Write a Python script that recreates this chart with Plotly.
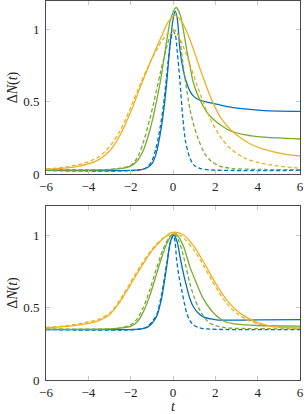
import plotly.graph_objects as go

# ---------------- data ----------------
# top panel
t_top_ys = [-6, -5, -4, -3.5, -3, -2.5, -2, -1.5, -1, -0.5, -0.2, 0.1, 0.4, 0.7, 1.0, 1.3, 1.6, 1.9, 2.3, 2.7, 3.2, 3.7, 4.4, 5.2, 6]
v_top_ys = [0.032, 0.042, 0.07, 0.1, 0.16, 0.27, 0.43, 0.62, 0.80, 0.97, 1.06, 1.10, 1.06, 0.97, 0.85, 0.72, 0.60, 0.49, 0.38, 0.31, 0.25, 0.205, 0.167, 0.14, 0.125]

t_top_yd = [-6, -5, -4, -3.5, -3, -2.5, -2, -1.5, -1, -0.5, -0.2, 0, 0.2, 0.5, 0.8, 1.1, 1.4, 1.8, 2.3, 2.8, 3.4, 4, 5, 6]
v_top_yd = [0.035, 0.05, 0.085, 0.12, 0.19, 0.30, 0.46, 0.64, 0.80, 0.93, 0.98, 0.99, 0.97, 0.88, 0.76, 0.63, 0.51, 0.37, 0.245, 0.165, 0.11, 0.08, 0.055, 0.04]

t_top_gs = [-6, -3, -2.5, -2, -1.7, -1.4, -1.1, -0.9, -0.6, -0.3, -0.1, 0.15, 0.35, 0.5, 0.65, 0.8, 0.95, 1.25, 1.6, 1.9, 2.3, 2.7, 3.3, 4, 5, 6]
v_top_gs = [0.028, 0.03, 0.037, 0.055, 0.09, 0.165, 0.30, 0.42, 0.64, 0.92, 1.08, 1.155, 1.10, 0.99, 0.86, 0.75, 0.64, 0.52, 0.43, 0.38, 0.335, 0.30, 0.275, 0.26, 0.25, 0.243]

t_top_gd = [-6, -3, -2.5, -2, -1.7, -1.4, -1.1, -0.9, -0.6, -0.3, -0.1, 0.05, 0.2, 0.33, 0.45, 0.6, 0.8, 1.0, 1.2, 1.5, 1.8, 2.2, 2.8, 4, 6]
v_top_gd = [0.03, 0.032, 0.04, 0.06, 0.11, 0.22, 0.38, 0.50, 0.70, 0.88, 0.97, 1.0, 0.98, 0.92, 0.79, 0.63, 0.45, 0.33, 0.24, 0.14, 0.09, 0.055, 0.038, 0.032, 0.03]

t_top_bs = [-6, -2, -1.5, -1.2, -1.0, -0.8, -0.6, -0.45, -0.3, -0.15, 0.0, 0.1, 0.2, 0.33, 0.5, 0.65, 0.8, 1.0, 1.3, 1.9, 2.85, 4.3, 6]
v_top_bs = [0.025, 0.025, 0.03, 0.045, 0.07, 0.14, 0.28, 0.43, 0.63, 0.88, 1.07, 1.13, 1.08, 0.86, 0.71, 0.63, 0.575, 0.535, 0.51, 0.49, 0.46, 0.44, 0.435]

t_top_bd = [-6, -1.5, -1.2, -1.0, -0.8, -0.6, -0.45, -0.3, -0.15, 0.0, 0.1, 0.2, 0.33, 0.45, 0.6, 0.8, 1.0, 1.3, 1.8, 6]
v_top_bd = [0.025, 0.03, 0.05, 0.09, 0.18, 0.33, 0.48, 0.68, 0.88, 0.99, 0.97, 0.85, 0.64, 0.41, 0.22, 0.11, 0.06, 0.038, 0.028, 0.025]

# bottom panel
t_bot_ys = [-6, -5, -4, -3.5, -3, -2.5, -2, -1.5, -1, -0.5, -0.1, 0.1, 0.5, 1, 1.5, 2, 2.5, 3, 3.5, 4, 4.5, 5, 6]
v_bot_ys = [0.36, 0.37, 0.39, 0.41, 0.45, 0.54, 0.66, 0.78, 0.89, 0.97, 1.015, 1.02, 1.0, 0.92, 0.80, 0.67, 0.56, 0.48, 0.43, 0.395, 0.375, 0.365, 0.36]

t_bot_yd = [-6, -5, -4, -3.5, -3, -2.5, -2, -1.5, -1, -0.5, 0, 0.3, 0.5, 1, 1.5, 2, 2.5, 3, 3.5, 4, 4.5, 5, 6]
v_bot_yd = [0.362, 0.375, 0.40, 0.42, 0.46, 0.555, 0.675, 0.795, 0.90, 0.975, 1.01, 1.0, 0.98, 0.895, 0.775, 0.645, 0.535, 0.46, 0.415, 0.388, 0.372, 0.363, 0.358]

t_bot_gs = [-6, -3, -2.5, -2, -1.7, -1.4, -1.1, -0.8, -0.5, -0.2, 0.08, 0.3, 0.5, 0.8, 1.1, 1.4, 1.7, 2, 2.5, 3, 4, 6]
v_bot_gs = [0.35, 0.352, 0.358, 0.37, 0.40, 0.47, 0.58, 0.72, 0.86, 0.97, 1.015, 0.98, 0.92, 0.78, 0.67, 0.57, 0.50, 0.45, 0.40, 0.385, 0.376, 0.372]

t_bot_gd = [-6, -3, -2.5, -2, -1.7, -1.4, -1.1, -0.8, -0.5, -0.2, 0.05, 0.3, 0.5, 0.8, 1.0, 1.27, 1.6, 1.9, 2.5, 3.5, 6]
v_bot_gd = [0.35, 0.353, 0.36, 0.38, 0.42, 0.50, 0.62, 0.76, 0.89, 0.98, 1.01, 0.95, 0.85, 0.665, 0.57, 0.48, 0.41, 0.38, 0.36, 0.355, 0.352]

t_bot_bs = [-6, -2, -1.5, -1.2, -1.0, -0.77, -0.53, -0.3, -0.11, 0.05, 0.2, 0.33, 0.5, 0.65, 0.8, 0.96, 1.2, 1.43, 2.06, 3, 4, 6]
v_bot_bs = [0.348, 0.348, 0.352, 0.365, 0.39, 0.44, 0.57, 0.78, 0.96, 1.0, 0.95, 0.85, 0.73, 0.64, 0.56, 0.505, 0.46, 0.435, 0.415, 0.413, 0.414, 0.416]

t_bot_bd = [-6, -1.5, -1.2, -1.0, -0.77, -0.53, -0.3, -0.1, 0.02, 0.1, 0.17, 0.3, 0.41, 0.55, 0.65, 0.8, 0.96, 1.2, 1.6, 6]
v_bot_bd = [0.348, 0.352, 0.37, 0.40, 0.45, 0.60, 0.80, 0.96, 1.0, 0.95, 0.83, 0.70, 0.62, 0.52, 0.46, 0.41, 0.38, 0.362, 0.352, 0.348]

x_ticks = [-6, -4, -2, 0, 2, 4, 6]
y_ticks = [0, 0.5, 1]
y_tick_labels = ["0", "0.5", "1"]

BLUE = "#0072BD"
GREEN = "#77AC30"
YELLOW = "#EDB120"

# ---------------- figure ----------------
fig = go.Figure()

series = [
    ("y", t_top_bs, v_top_bs, BLUE, "solid"),
    ("y", t_top_bd, v_top_bd, BLUE, "dash"),
    ("y", t_top_gs, v_top_gs, GREEN, "solid"),
    ("y", t_top_gd, v_top_gd, GREEN, "dash"),
    ("y", t_top_ys, v_top_ys, YELLOW, "solid"),
    ("y", t_top_yd, v_top_yd, YELLOW, "dash"),
    ("y2", t_bot_bs, v_bot_bs, BLUE, "solid"),
    ("y2", t_bot_bd, v_bot_bd, BLUE, "dash"),
    ("y2", t_bot_gs, v_bot_gs, GREEN, "solid"),
    ("y2", t_bot_gd, v_bot_gd, GREEN, "dash"),
    ("y2", t_bot_ys, v_bot_ys, YELLOW, "solid"),
    ("y2", t_bot_yd, v_bot_yd, YELLOW, "dash"),
]
for yax, tx, vy, col, dash in series:
    fig.add_trace(go.Scatter(
        x=tx, y=vy, mode="lines",
        xaxis="x" if yax == "y" else "x2", yaxis=yax,
        line=dict(color=col, width=1.3, dash=("4px,2.5px" if dash == "dash" else "solid"),
                  shape="spline", smoothing=0.8),
        showlegend=False, hoverinfo="skip",
    ))

FONT = "Liberation Serif"
axis_common = dict(
    showgrid=False, zeroline=False,
    showline=True, linecolor="#4a4a4a", linewidth=1, mirror="allticks",
    ticks="inside", ticklen=4, tickcolor="#c8c8c8", tickwidth=1,
    tickfont=dict(family=FONT, size=13, color="#222"),
)

fig.update_layout(
    width=308, height=414,
    margin=dict(l=46, r=8, t=1, b=34),
    paper_bgcolor="white", plot_bgcolor="white",
    font=dict(family=FONT, size=13, color="#222"),
    xaxis=dict(axis_common, domain=[0, 1], anchor="y", range=[-6, 6],
               tickvals=x_ticks),
    yaxis=dict(axis_common, domain=[0.5435, 1.0], anchor="x", range=[0, 1.2],
               tickvals=y_ticks, ticktext=y_tick_labels, ticklabelstandoff=3,
               title=dict(text="Δ<i>N</i>(<i>t</i>)", font=dict(family=FONT, size=14, color="#222"),
                          standoff=2)),
    xaxis2=dict(axis_common, domain=[0, 1], anchor="y2", range=[-6, 6],
                tickvals=x_ticks,
                title=dict(text="<i>t</i>", font=dict(family=FONT, size=14, color="#222"),
                           standoff=0)),
    yaxis2=dict(axis_common, domain=[0, 0.4591], anchor="x2", range=[0, 1.2],
                tickvals=y_ticks, ticktext=y_tick_labels, ticklabelstandoff=3,
                title=dict(text="Δ<i>N</i>(<i>t</i>)", font=dict(family=FONT, size=14, color="#222"),
                           standoff=2)),
)

fig.write_html("out.html",
               config={"displayModeBar": False, "staticPlot": True},
               post_script="document.body.style.margin='0';document.body.style.padding='0';")
